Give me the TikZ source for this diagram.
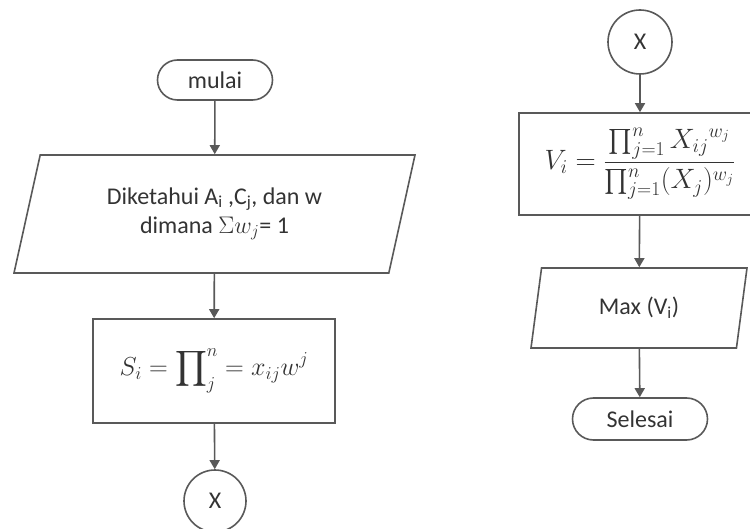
\documentclass[tikz,border=0pt]{standalone}
\usepackage{fix-cm}
\usepackage{amsmath}
\usepackage{fontspec}
\setmainfont{Carlito}
\usetikzlibrary{shapes.geometric,shapes.misc,arrows.meta}

\begin{document}
\begin{tikzpicture}[x=1pt,y=-1pt,
            every node/.style={text=black!80,font=\fontsize{24}{29}\selectfont,line width=1.6pt,draw=black!65},
            term node/.style={rounded rectangle,draw,inner sep=0pt},
            io node/.style={trapezium,draw,trapezium left angle=63.5,trapezium right angle=116.5,trapezium stretches body=true,inner sep=0pt,align=center},
            proc node/.style={rectangle,draw,inner sep=0pt},
            conn node/.style={circle,draw,inner sep=0pt},
            flow/.style={line width=1.6pt,draw=black!65,-{Triangle[length=9pt,width=10pt]}},
            ]

            \useasboundingbox (0,0) rectangle (750,529);

            % left column
            \node[term node, minimum width=115pt, minimum height=40pt] (mulai) at (215,80) {mulai};
            \node[io node, minimum width=401pt, minimum height=118pt] (in1) at (214.5,214) {Diketahui A\textsubscript{i} ,C\textsubscript{j}, dan w\\dimana $\Sigma w_j$= 1};
            \node[proc node, minimum width=242pt, minimum height=104pt, font=\fontsize{26}{31}\selectfont] (proc1) at (214,371) {$\displaystyle S_i = \prod\nolimits_j^n = x_{ij}w^j$};
            \node[conn node, minimum size=62pt] (x1) at (215,501) {X};

            % right column
            \node[conn node, minimum size=64pt] (x2) at (640,42) {X};
            \node[proc node, minimum width=242pt, minimum height=102pt, font=\fontsize{28}{33}\selectfont] (proc2) at (640,164) {$\displaystyle V_i = \frac{\prod_{j=1}^n {X_{ij}}^{w_j}}{\prod_{j=1}^n (X_j)^{w_j}}$};
            \node[io node, minimum width=216pt, minimum height=80pt] (out2) at (639,308) {Max (V\textsubscript{i})};
            \node[term node, minimum width=135pt, minimum height=42pt] (selesai) at (640,419) {Selesai};

            \draw[flow] (mulai) -- (in1);
            \draw[flow] (in1) -- (proc1);
            \draw[flow] (proc1) -- (x1);
            \draw[flow] (x2) -- (proc2);
            \draw[flow] (proc2) -- (out2);
            \draw[flow] (out2) -- (selesai);
        \end{tikzpicture}
\end{document}
